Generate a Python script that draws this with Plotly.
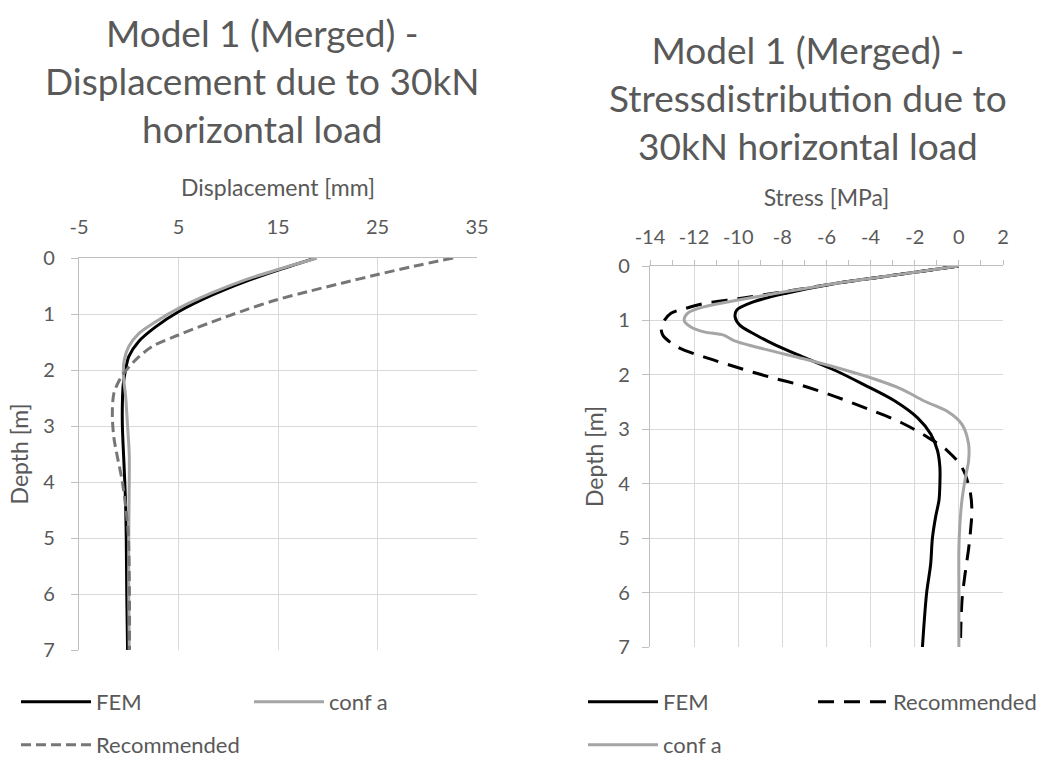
import plotly.graph_objects as go

# ---- Left chart: displacement [mm] vs depth [m] ----
disp_fem_depth = [0, 0.21, 0.42, 0.66, 0.96, 1.23, 1.49, 1.76, 2.0, 2.25, 2.6, 3.0, 3.6, 4.0, 4.5, 5.0, 6.0, 7.0]
disp_fem = [18.8, 15.1, 11.7, 8.4, 5.0, 2.7, 1.0, 0.0, -0.32, -0.55, -0.64, -0.64, -0.5, -0.4, -0.3, -0.25, -0.2, -0.12]

disp_confa_depth = [0, 0.2, 0.39, 0.62, 0.9, 1.14, 1.35, 1.58, 1.82, 2.06, 2.5, 3.0, 3.5, 4.0, 5.0, 6.0, 7.0]
disp_confa = [18.9, 15.1, 11.7, 8.4, 5.0, 2.7, 1.0, 0.0, -0.45, -0.55, -0.3, -0.12, 0.05, 0.05, 0.0, 0.0, 0.05]

disp_rec_depth = [0, 0.15, 0.3, 0.45, 0.6, 0.75, 0.93, 1.14, 1.375, 1.58, 1.82, 2.06, 2.2, 2.42, 2.8, 3.2, 3.5, 4.0, 4.5, 5.0, 6.0, 7.0]
disp_rec = [32.6, 28.6, 24.9, 21.4, 18.0, 14.8, 11.7, 8.4, 5.0, 2.36, 0.69, -0.5, -1.0, -1.5, -1.65, -1.5, -1.2, -0.64, -0.27, -0.03, 0.07, 0.07]

# ---- Right chart: stress [MPa] vs depth [m] ----
st_fem_depth = [0, 0.1, 0.2, 0.32, 0.5, 0.66, 0.81, 0.94, 1.09, 1.24, 1.46, 1.67, 1.92, 2.17, 2.48, 2.79, 3.09, 3.39, 3.7, 4.0, 4.3, 4.6, 5.0, 5.48, 6.0, 6.58, 7.0]
st_fem = [0, -1.75, -3.5, -5.6, -7.83, -9.32, -10.07, -10.14, -9.92, -9.32, -8.28, -7.08, -5.6, -4.35, -2.9, -1.87, -1.27, -0.97, -0.86, -0.86, -0.9, -1.05, -1.2, -1.28, -1.46, -1.58, -1.65]

st_confa_depth = [0, 0.1, 0.2, 0.32, 0.47, 0.63, 0.75, 0.87, 1.0, 1.12, 1.21, 1.27, 1.37, 1.55, 1.70, 1.86, 2.04, 2.26, 2.48, 2.67, 2.91, 3.27, 3.58, 3.88, 4.3, 4.79, 5.2, 6.0, 7.0]
st_confa = [0, -1.75, -3.5, -5.6, -7.83, -10.07, -11.56, -12.3, -12.45, -12.15, -11.56, -10.66, -10.2, -8.58, -7.08, -5.6, -4.1, -2.6, -1.57, -0.53, 0.14, 0.44, 0.44, 0.3, 0.14, 0.04, 0.0, 0.0, 0.0]

st_rec_depth = [0, 0.1, 0.2, 0.32, 0.47, 0.6, 0.69, 0.78, 0.87, 1.0, 1.12, 1.27, 1.49, 1.67, 1.86, 2.04, 2.2, 2.4, 2.63, 2.88, 3.15, 3.39, 3.7, 4.12, 4.48, 4.9, 5.2, 5.6, 6.1, 6.5, 7.0]
st_rec = [0, -1.75, -3.5, -5.6, -7.9, -10.0, -11.56, -12.4, -13.05, -13.35, -13.49, -13.42, -12.75, -11.56, -10.07, -8.58, -7.08, -5.6, -4.1, -2.6, -1.4, -0.53, 0.14, 0.5, 0.59, 0.52, 0.44, 0.3, 0.15, 0.1, 0.07]

left_xticks = [-5, 5, 15, 25, 35]
right_xticks = [-14, -12, -10, -8, -6, -4, -2, 0, 2]
depth_ticks = [0, 1, 2, 3, 4, 5, 6, 7]

FONT = "Lato"
TXT = "#595959"
GRID = "#D9D9D9"
AXL = "#BFBFBF"
W, H = 1049, 758

fig = go.Figure()

def add(x, y, name, color, dash, xa, ya, leg):
    fig.add_trace(go.Scatter(x=x, y=y, name=name, mode="lines",
                             line=dict(color=color, width=3, dash=dash, shape="spline", smoothing=0.9),
                             xaxis=xa, yaxis=ya, legend=leg, hoverinfo="skip"))

add(disp_fem, disp_fem_depth, "FEM", "#000000", "solid", "x", "y", "legend")
add(disp_confa, disp_confa_depth, "conf a", "#A5A5A5", "solid", "x", "y", "legend")
add(disp_rec, disp_rec_depth, "Recommended", "#767676", "10px,5px", "x", "y", "legend2")

add(st_fem, st_fem_depth, "FEM", "#000000", "solid", "x2", "y2", "legend3")
add(st_rec, st_rec_depth, "Recommended", "#000000", "16px,10px", "x2", "y2", "legend3")
add(st_confa, st_confa_depth, "conf a", "#A5A5A5", "solid", "x2", "y2", "legend4")

def px(v):
    return v / W

def py(v):
    return 1 - v / H

tickfont = dict(family=FONT, size=20, color=TXT)
titlefont = dict(family=FONT, size=23, color=TXT)
legfont = dict(family=FONT, size=22, color=TXT)

def tt(vals):
    return [str(v) for v in vals]

fig.update_layout(
    width=W, height=H,
    margin=dict(l=0, r=0, t=0, b=0, autoexpand=False),
    paper_bgcolor="white", plot_bgcolor="white",
    font=dict(family=FONT, color=TXT),
    xaxis=dict(domain=[px(79), px(477)], anchor="y", side="top", range=[-5, 35],
               tickvals=left_xticks, ticktext=tt(left_xticks), tickangle=0,
               showgrid=True, gridcolor=GRID, gridwidth=1.3,
               showline=True, linecolor=AXL, linewidth=1.3, mirror=False, zeroline=False,
               ticks="", tickfont=tickfont, ticklabelstandoff=15,
               title=dict(text="Displacement [mm]", font=titlefont, standoff=10)),
    yaxis=dict(domain=[py(650), py(258)], anchor="x", range=[7, 0], tickvals=depth_ticks,
               showgrid=True, gridcolor=GRID, gridwidth=1.3, showline=True, linecolor=AXL,
               linewidth=1.3, zeroline=False, ticks="outside", ticklen=7, tickcolor=AXL,
               tickfont=tickfont, ticklabelstandoff=12,
               title=dict(text="Depth [m]", font=titlefont, standoff=8)),
    xaxis2=dict(domain=[px(650), px(1003)], anchor="y2", side="top", range=[-14, 2],
                tickvals=right_xticks, ticktext=tt(right_xticks), tickangle=0,
                showgrid=True, gridcolor=GRID, gridwidth=1.3,
                showline=True, linecolor=AXL, linewidth=1.3, zeroline=False,
                ticks="outside", ticklen=5, tickcolor=AXL,
                minor=dict(dtick=1, ticks="outside", ticklen=5, tickcolor=AXL, showgrid=False),
                tickfont=tickfont, ticklabelstandoff=8,
                title=dict(text="Stress [MPa]", font=titlefont, standoff=10)),
    yaxis2=dict(domain=[py(647), py(266)], anchor="x2", range=[7, 0], tickvals=depth_ticks,
                showgrid=True, gridcolor=GRID, gridwidth=1.3, showline=True, linecolor=AXL,
                linewidth=1.3, zeroline=False, ticks="outside", ticklen=7, tickcolor=AXL,
                tickfont=tickfont, ticklabelstandoff=8,
                title=dict(text="Depth [m]", font=titlefont, standoff=8)),
    legend=dict(orientation="h", x=px(16), y=py(681), xanchor="left", yanchor="top",
                font=legfont, entrywidth=148, itemwidth=70, bgcolor="rgba(0,0,0,0)"),
    legend2=dict(orientation="h", x=px(16), y=py(724), xanchor="left", yanchor="top",
                 font=legfont, itemwidth=70, bgcolor="rgba(0,0,0,0)"),
    legend3=dict(orientation="h", x=px(583), y=py(681), xanchor="left", yanchor="top",
                 font=legfont, entrywidth=145, itemwidth=70, bgcolor="rgba(0,0,0,0)"),
    legend4=dict(orientation="h", x=px(583), y=py(724), xanchor="left", yanchor="top",
                 font=legfont, itemwidth=70, bgcolor="rgba(0,0,0,0)"),
    annotations=[
        dict(text="Model 1 (Merged) -<br>Displacement due to 30kN<br>horizontal load",
             x=px(262), y=py(8), xref="paper", yref="paper", xanchor="center", yanchor="top",
             showarrow=False, font=dict(family=FONT, size=37, color=TXT)),
        dict(text="Model 1 (Merged) -<br>Stressdistribution due to<br>30kN horizontal load",
             x=px(808), y=py(25), xref="paper", yref="paper", xanchor="center", yanchor="top",
             showarrow=False, font=dict(family=FONT, size=37, color=TXT)),
    ],
)

fig.write_html("out.html")
